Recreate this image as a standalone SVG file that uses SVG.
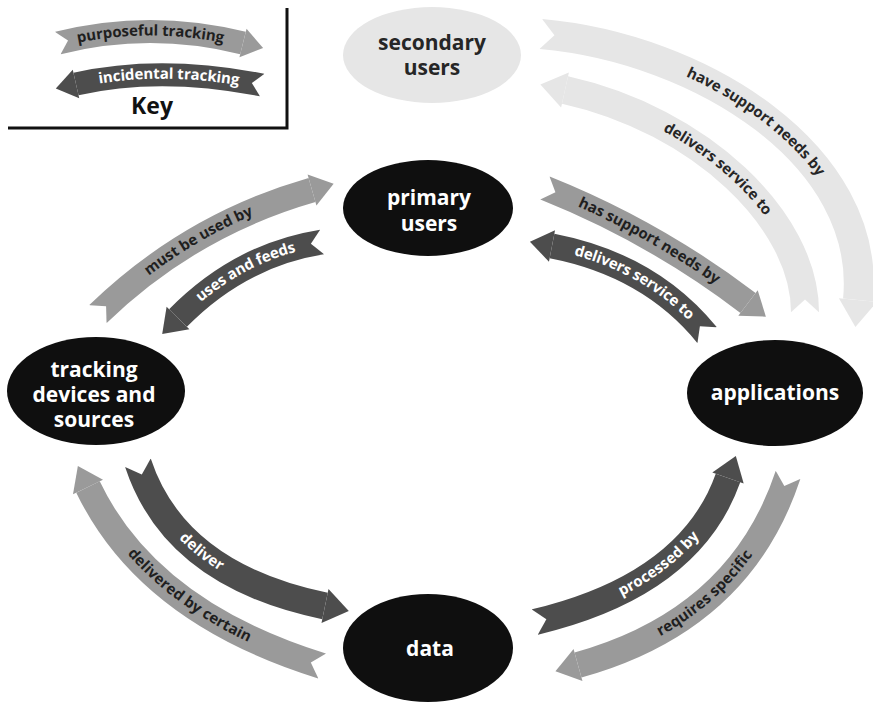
<svg xmlns="http://www.w3.org/2000/svg" width="873" height="703" viewBox="0 0 873 703">
  <style>
    .lbl{font-family:"Open Sans","Noto Sans","DejaVu Sans",sans-serif;font-weight:700}
    .node-t{font-size:21px;text-anchor:middle}
    .arr-t{font-size:15px;dominant-baseline:middle;text-anchor:middle}
    .band{fill:none;stroke-linecap:butt}
    .light{stroke:#e6e6e6}
    .mid{stroke:#9a9a9a}
    .dark{stroke:#4d4d4d}
    .on-light{fill:#262626}
    .on-mid{fill:#1f1f1f}
    .on-dark{fill:#ffffff}
    .node-dark{fill:#0f0f0f}
  </style>
  <defs>
    <!-- arrowheads, scaled by the band width -->
    <marker id="head-light" markerUnits="strokeWidth" markerWidth="2" markerHeight="2" orient="auto" overflow="visible">
      <path d="M0,-0.64 L0.9,0 L0,0.64 Z" fill="#e6e6e6"/>
    </marker>
    <marker id="head-mid" markerUnits="strokeWidth" markerWidth="2" markerHeight="2" orient="auto" overflow="visible">
      <path d="M0,-0.64 L0.9,0 L0,0.64 Z" fill="#9a9a9a"/>
    </marker>
    <marker id="head-dark" markerUnits="strokeWidth" markerWidth="2" markerHeight="2" orient="auto" overflow="visible">
      <path d="M0,-0.64 L0.9,0 L0,0.64 Z" fill="#4d4d4d"/>
    </marker>
    <!-- swallowtail notch cut into the start of a band -->
    <marker id="notch" markerUnits="strokeWidth" markerWidth="2" markerHeight="2" orient="auto" overflow="visible">
      <path d="M-0.1,-0.6 L0.45,0 L-0.1,0.6 Z" fill="#ffffff"/>
    </marker>
    <!-- left-to-right reading paths for labels on right-to-left arrows -->
    <path id="t-secsvc" d="M565 90 C700 120 805 220 805 312"/>
    <path id="t-delsvc" d="M552 246 Q650 265 707 335"/>
    <path id="t-uses" d="M178 318 Q240 255 322 242"/>
    <path id="t-delcert" d="M88 487 Q148 612 322 666"/>
    <path id="t-req" d="M578 665 Q740 620 788 475"/>
    <path id="t-incid" d="M76 84 Q160 65 262 85"/>
  </defs>

  <rect width="873" height="703" fill="#ffffff"/>

  <!-- legend -->
  <g id="key">
    <path class="band mid" stroke-width="23" d="M58 43 Q150 20 243 43" id="k-purp" marker-start="url(#notch)" marker-end="url(#head-mid)"/>
    <path class="band dark" stroke-width="23" d="M262 85 Q160 65 76 84" marker-start="url(#notch)" marker-end="url(#head-dark)"/>
    <text class="lbl arr-t on-mid"><textPath href="#k-purp" startOffset="50%">purposeful tracking</textPath></text>
    <text class="lbl arr-t on-dark"><textPath href="#t-incid" startOffset="50%">incidental tracking</textPath></text>
    <text class="lbl" x="152" y="114" font-size="23" text-anchor="middle" fill="#111">Key</text>
    <path d="M8 128 H287 V8" fill="none" stroke="#111" stroke-width="3"/>
  </g>

  <!-- connectors -->
  <g id="connectors">
    <path id="a-have" class="band light" stroke-width="30" d="M541 34 C700 48 872 155 858 300" marker-start="url(#notch)" marker-end="url(#head-light)"/>
    <path id="a-secsvc" class="band light" stroke-width="28" d="M805 312 C805 220 700 120 565 90" marker-start="url(#notch)" marker-end="url(#head-light)"/>
    <path id="a-hassup" class="band mid" stroke-width="25" d="M545 188 Q655 232 748 303" marker-start="url(#notch)" marker-end="url(#head-mid)"/>
    <path id="a-delsvc" class="band dark" stroke-width="25" d="M707 335 Q650 265 552 246" marker-start="url(#notch)" marker-end="url(#head-dark)"/>
    <path id="a-must" class="band mid" stroke-width="25" d="M98 314 Q190 225 312 190" marker-start="url(#notch)" marker-end="url(#head-mid)"/>
    <path id="a-uses" class="band dark" stroke-width="25" d="M322 242 Q240 255 178 318" marker-start="url(#notch)" marker-end="url(#head-dark)"/>
    <path id="a-deliver" class="band dark" stroke-width="27" d="M138 463 Q175 575 325 606" marker-start="url(#notch)" marker-end="url(#head-dark)"/>
    <path id="a-delcert" class="band mid" stroke-width="26" d="M322 666 Q148 612 88 487" marker-start="url(#notch)" marker-end="url(#head-mid)"/>
    <path id="a-proc" class="band dark" stroke-width="26" d="M535 622 Q690 585 728 478" marker-start="url(#notch)" marker-end="url(#head-dark)"/>
    <path id="a-req" class="band mid" stroke-width="26" d="M788 475 Q740 620 578 665" marker-start="url(#notch)" marker-end="url(#head-mid)"/>

    <text class="lbl arr-t on-light"><textPath href="#a-have" startOffset="52%">have support needs by</textPath></text>
    <text class="lbl arr-t on-light"><textPath href="#t-secsvc" startOffset="50%">delivers service to</textPath></text>
    <text class="lbl arr-t on-mid"><textPath href="#a-hassup" startOffset="50%">has support needs by</textPath></text>
    <text class="lbl arr-t on-dark"><textPath href="#t-delsvc" startOffset="50%">delivers service to</textPath></text>
    <text class="lbl arr-t on-mid"><textPath href="#a-must" startOffset="50%">must be used by</textPath></text>
    <text class="lbl arr-t on-dark"><textPath href="#t-uses" startOffset="50%">uses and feeds</textPath></text>
    <text class="lbl arr-t on-dark"><textPath href="#a-deliver" startOffset="45%">deliver</textPath></text>
    <text class="lbl arr-t on-mid"><textPath href="#t-delcert" startOffset="50%">delivered by certain</textPath></text>
    <text class="lbl arr-t on-dark"><textPath href="#a-proc" startOffset="55%">processed by</textPath></text>
    <text class="lbl arr-t on-mid"><textPath href="#t-req" startOffset="50%">requires specific</textPath></text>
  </g>

  <!-- nodes -->
  <g id="node-secondary-users">
    <ellipse cx="432" cy="55" rx="89" ry="48" fill="#e6e6e6"/>
    <text class="lbl node-t" x="432" y="50" fill="#262626">secondary</text>
    <text class="lbl node-t" x="432" y="75" fill="#262626">users</text>
  </g>
  <g id="node-primary-users">
    <ellipse class="node-dark" cx="428" cy="208" rx="85" ry="48"/>
    <text class="lbl node-t" x="429" y="205" fill="#fff">primary</text>
    <text class="lbl node-t" x="429" y="231" fill="#fff">users</text>
  </g>
  <g id="node-tracking-devices">
    <ellipse class="node-dark" cx="96" cy="391" rx="89" ry="54"/>
    <text class="lbl node-t" x="94" y="377" fill="#fff">tracking</text>
    <text class="lbl node-t" x="94" y="402" fill="#fff">devices and</text>
    <text class="lbl node-t" x="94" y="427" fill="#fff">sources</text>
  </g>
  <g id="node-applications">
    <ellipse class="node-dark" cx="775" cy="393" rx="88" ry="53"/>
    <text class="lbl node-t" x="775" y="400" fill="#fff">applications</text>
  </g>
  <g id="node-data">
    <ellipse class="node-dark" cx="428" cy="648" rx="85" ry="54"/>
    <text class="lbl node-t" x="430" y="656" fill="#fff">data</text>
  </g>
</svg>
